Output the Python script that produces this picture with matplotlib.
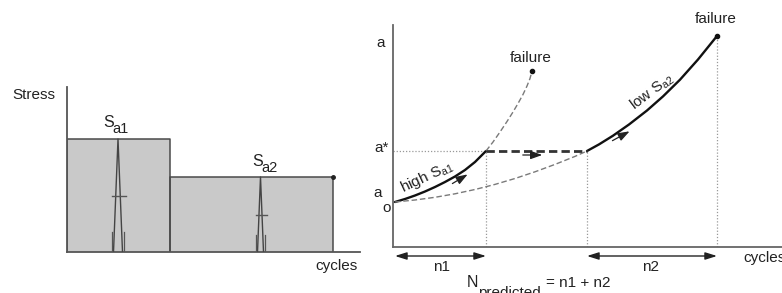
import matplotlib
matplotlib.use("Agg")
import matplotlib.pyplot as plt

plt.rcParams['font.family'] = ['Liberation Sans', 'DejaVu Sans']
plt.rcParams['mathtext.fontset'] = 'custom'
plt.rcParams['mathtext.rm'] = 'Liberation Sans'
plt.rcParams['mathtext.it'] = 'Liberation Sans'
plt.rcParams['mathtext.bf'] = 'Liberation Sans:bold'

# ---------------- data ----------------
# Left panel: block loading (stress amplitude per block)
block_edges = [0, 103, 266]          # cycles at block boundaries
stress_levels = [113, 75]            # S_a1, S_a2
spike_pos = [51, 193.5]              # cycle position of the sketched load cycle per block

# Right panel: crack length vs cycles
high_N = [2, 12, 22, 32, 42, 52, 62, 72, 82, 93, 100, 107, 114, 120, 125, 130, 134, 137, 139]
high_a = [45, 48, 51.5, 55.5, 60, 65, 70.5, 77, 85, 96, 105, 115, 125.5, 135, 143.5, 152.5, 161, 168.5, 176]
low_N = [2, 22, 42, 62, 82, 102, 122, 142, 162, 182, 194, 206, 220, 236, 254, 270, 287, 305, 324]
low_a = [45, 47, 49.7, 53.2, 57.5, 62.6, 68.5, 75.2, 82.6, 90.6, 96, 102.6, 111.3, 122.5, 136.5, 150.6, 167.3, 187.5, 211]
a_star = 96
n1_end = 93
n2_start = 194
n2_end = 324

W, H = 782, 293
fig = plt.figure(figsize=(W / 100, H / 100), dpi=100)


def fx(px):
    return px / W


def fy(py):
    return 1 - py / H


def ftext(x, y, s, size=11, **kw):
    fig.text(fx(x), fy(y), s, fontsize=size, color='#222222', **kw)


# ---------------- left panel ----------------
axL = fig.add_axes([fx(67), fy(252), (360 - 67) / W, (252 - 87) / H])
axL.set_xlim(0, 293)
axL.set_ylim(0, 165)
axL.patch.set_alpha(0)
for s in ['top', 'right']:
    axL.spines[s].set_visible(False)
for s in ['left', 'bottom']:
    axL.spines[s].set_color('#555555')
    axL.spines[s].set_linewidth(1.3)
axL.set_xticks([])
axL.set_yticks([])

for i in range(2):
    x0, x1 = block_edges[i], block_edges[i + 1]
    lev = stress_levels[i]
    axL.fill_between([x0, x1], 0, lev, color='#c9c9c9', lw=0, zorder=1)
    axL.plot([x0, x0, x1, x1], [0, lev, lev, 0], color='#4a4a4a', lw=1.1, zorder=2)
    c = spike_pos[i]
    hw = 4.5 if i == 0 else 3.0
    axL.plot([c - hw, c, c + hw], [0, lev, 0], color='#444444', lw=1.0, zorder=3)
    sw = 6 if i == 0 else 4.5
    sh = 20 if i == 0 else 17
    axL.plot([c - sw, c - sw], [0, sh], color='#555555', lw=0.9, zorder=3)
    axL.plot([c + sw, c + sw], [0, sh], color='#555555', lw=0.9, zorder=3)
    axL.plot([c - sw, c + sw + 2], [lev / 2, lev / 2], color='#555555', lw=1.0, zorder=3)

axL.plot([block_edges[-1]], [stress_levels[-1]], 'o', color='#222222', ms=2.5, zorder=4)

ftext(12, 95, 'Stress', va='center', ha='left')
ftext(315, 266, 'cycles', va='center', ha='left')
# S_a1 and S_a2 labels
ftext(103, 127, 'S', va='baseline', ha='left', size=11.5)
ftext(112, 133, 'a1', va='baseline', ha='left', size=10.5)
ftext(252, 166, 'S', va='baseline', ha='left', size=11.5)
ftext(261, 172, 'a2', va='baseline', ha='left', size=10.5)

# ---------------- right panel ----------------
axR = fig.add_axes([fx(393), fy(247), (782 - 393) / W, (247 - 25) / H])
axR.set_xlim(0, 389)
axR.set_ylim(0, 222)
axR.patch.set_alpha(0)
for s in ['top', 'right']:
    axR.spines[s].set_visible(False)
for s in ['left', 'bottom']:
    axR.spines[s].set_color('#666666')
    axR.spines[s].set_linewidth(1.3)
axR.set_xticks([])
axR.set_yticks([])

dcol = '#7a7a7a'
# high stress curve: solid up to a*, dashed beyond
hi_solid = [k for k in range(len(high_N)) if high_N[k] <= n1_end]
hi_dash = [k for k in range(len(high_N)) if high_N[k] >= n1_end]
axR.plot([high_N[k] for k in hi_solid], [high_a[k] for k in hi_solid],
         color='#111111', lw=1.7, solid_capstyle='round', solid_joinstyle='round', zorder=3)
axR.plot([high_N[k] for k in hi_dash], [high_a[k] for k in hi_dash],
         color=dcol, lw=1.0, dashes=(4, 2), zorder=3)
# low stress curve: dashed up to a*, solid beyond
lo_dash = [k for k in range(len(low_N)) if low_N[k] <= n2_start]
lo_solid = [k for k in range(len(low_N)) if low_N[k] >= n2_start]
axR.plot([low_N[k] for k in lo_dash], [low_a[k] for k in lo_dash],
         color=dcol, lw=1.0, dashes=(4, 2), zorder=3)
axR.plot([low_N[k] for k in lo_solid], [low_a[k] for k in lo_solid],
         color='#111111', lw=1.7, solid_capstyle='round', solid_joinstyle='round', zorder=3)

# failure dots
axR.plot([high_N[-1], low_N[-1]], [high_a[-1], low_a[-1]], 'o', color='#111111', ms=3, zorder=4)

# guide lines
axR.plot([0, n1_end], [a_star, a_star], color='#999999', lw=0.9, ls=(0, (1, 1.5)), zorder=2)
axR.plot([n1_end, n2_start], [a_star, a_star], color='#333333', lw=2.0, dashes=(3, 1.5), zorder=3)
for xv, yv in [(n1_end, a_star), (n2_start, a_star), (n2_end, low_a[-1])]:
    axR.plot([xv, xv], [0, yv], color='#999999', lw=0.9, ls=(0, (1, 1.5)), zorder=2)

# direction arrows
ap = dict(arrowstyle='-|>,head_length=0.7,head_width=0.25', color='#222222', lw=0.9)
axR.annotate('', xy=(77, 74), xytext=(57, 62), arrowprops=ap, annotation_clip=False)
axR.annotate('', xy=(239, 117), xytext=(217, 105), arrowprops=ap, annotation_clip=False)
axR.annotate('', xy=(152, 92), xytext=(127, 92), arrowprops=ap, annotation_clip=False)

# n1, n2 double arrows
dp = dict(arrowstyle='<|-|>,head_length=0.7,head_width=0.22', color='#222222', lw=1.0,
          shrinkA=0, shrinkB=0)
axR.annotate('', xy=(n1_end, -9), xytext=(2, -9), arrowprops=dp, annotation_clip=False)
axR.annotate('', xy=(n2_end, -9), xytext=(n2_start, -9), arrowprops=dp, annotation_clip=False)

# labels right panel
ftext(381, 43, 'a', va='center', ha='center')
ftext(382, 148, 'a*', va='center', ha='center')
ftext(373, 197, 'a', va='baseline', ha='left')
ftext(382, 212, 'o', va='baseline', ha='left')
ftext(531, 58, 'failure', va='center', ha='center')
ftext(716, 19, 'failure', va='center', ha='center')
ftext(442, 267, 'n1', va='center', ha='center')
ftext(651, 267, 'n2', va='center', ha='center')
ftext(467, 287, 'N', va='baseline', ha='left', size=11.5)
ftext(478, 297, 'predicted', va='baseline', ha='left', size=11)
ftext(546, 287, '= n1 + n2', va='baseline', ha='left', size=11)
ftext(743, 258, 'cycles', va='center', ha='left')
ftext(427, 177, r'high S$_{\rm a1}$', va='center', ha='center', rotation=25, rotation_mode='anchor')
ftext(652, 92, r'low S$_{\rm a2}$', va='center', ha='center', rotation=37, rotation_mode='anchor')

fig.savefig('out.png', dpi=100)
